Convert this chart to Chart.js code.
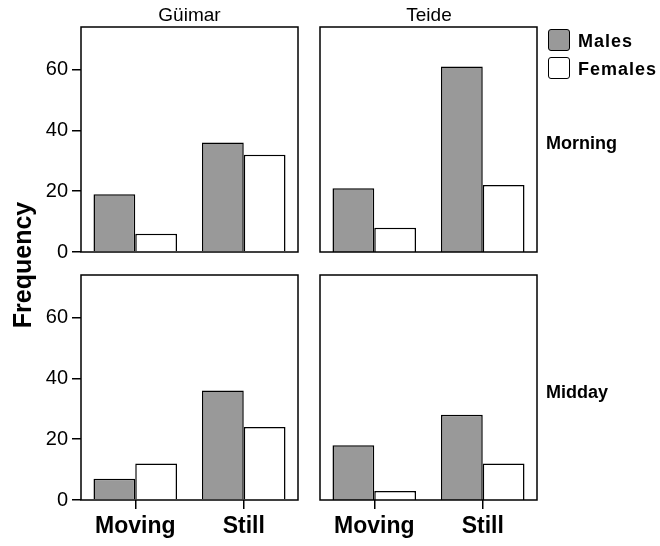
<!DOCTYPE html>
<html>
<head>
<meta charset="utf-8">
<script src="https://cdn.jsdelivr.net/npm/chart.js@4.4.1/dist/chart.umd.min.js"></script>
<style>
  body { margin: 0; background: #fff; }
  #page { position: relative; width: 660px; height: 546px; font-family: "Liberation Sans", Arial, sans-serif; color: #000; }
  canvas { position: absolute; }
  .txt { position: absolute; white-space: nowrap; }
  .key { position: absolute; width: 20px; height: 20px; border: 1.5px solid #000; border-radius: 3px; }
</style>
</head>
<body>
<div id="page"></div>
<script>
const categories = ["Moving", "Still"];
const sites = ["Güimar", "Teide"];
const periods = ["Morning", "Midday"];
const seriesNames = ["Males", "Females"];
const seriesColors = ["#999999", "#ffffff"];

// Frequency values
const malesMorningGuimar = [19, 36];
const femalesMorningGuimar = [6, 32];
const malesMorningTeide = [21, 61];
const femalesMorningTeide = [8, 22];
const malesMiddayGuimar = [7, 36];
const femalesMiddayGuimar = [12, 24];
const malesMiddayTeide = [18, 28];
const femalesMiddayTeide = [3, 12];

const yTicks = [0, 20, 40, 60];
const yMax = 74;

const FONT = '"Liberation Sans", Arial, sans-serif';
const page = document.getElementById("page");

// box round the plot area
const boxPlugin = {
  id: "box",
  afterDatasetsDraw(chart) {
    const a = chart.chartArea;
    const ctx = chart.ctx;
    ctx.save();
    ctx.strokeStyle = "#000";
    ctx.lineWidth = 1.5;
    ctx.strokeRect(a.left, a.top, a.right - a.left, a.bottom - a.top);
    ctx.restore();
  },
};

function addText(text, left, top, css) {
  const d = document.createElement("div");
  d.className = "txt";
  d.textContent = text;
  d.style.left = left + "px";
  d.style.top = top + "px";
  Object.assign(d.style, css || {});
  page.appendChild(d);
  return d;
}

function makePanel(boxLeft, boxTop, showY, showX, males, females) {
  const xh = showX ? 50 : 16; // room under the box
  const canvas = document.createElement("canvas");
  canvas.width = 308;
  canvas.height = 27 + 225 + xh;
  canvas.style.left = boxLeft - 81 + "px";
  canvas.style.top = boxTop - 27 + "px";
  page.appendChild(canvas);

  new Chart(canvas.getContext("2d"), {
    type: "bar",
    data: {
      labels: categories,
      datasets: [
        { label: seriesNames[0], data: males, backgroundColor: seriesColors[0], borderColor: "#000", borderWidth: 1.5 },
        { label: seriesNames[1], data: females, backgroundColor: seriesColors[1], borderColor: "#000", borderWidth: 1.5 },
      ],
    },
    options: {
      responsive: false,
      animation: false,
      events: [],
      layout: { padding: { left: 0, top: 27, right: 10, bottom: 0 } },
      datasets: { bar: { categoryPercentage: 0.77, barPercentage: 1 } },
      plugins: { legend: { display: false }, tooltip: { enabled: false } },
      scales: {
        x: {
          grid: { display: showX, drawOnChartArea: false, drawTicks: true, tickLength: 9, offset: false, color: "#000", lineWidth: 1.5 },
          border: { display: false },
          ticks: { display: showX, color: "#000", padding: 4, maxRotation: 0, font: { family: FONT, size: 23, weight: "bold" } },
          afterFit: (s) => { s.height = xh; },
        },
        y: {
          min: 0,
          max: yMax,
          afterBuildTicks: (s) => { s.ticks = yTicks.map((v) => ({ value: v })); },
          grid: { display: showY, drawOnChartArea: false, drawTicks: true, tickLength: 9, color: "#000", lineWidth: 1.5 },
          border: { display: false },
          ticks: { display: showY, color: "#000", padding: 4, font: { family: FONT, size: 20 } },
          afterFit: (s) => { s.width = 81; },
        },
      },
    },
    plugins: [boxPlugin],
  });
}

makePanel(81, 27, true, false, malesMorningGuimar, femalesMorningGuimar);
makePanel(320, 27, false, false, malesMorningTeide, femalesMorningTeide);
makePanel(81, 275, true, true, malesMiddayGuimar, femalesMiddayGuimar);
makePanel(320, 275, false, true, malesMiddayTeide, femalesMiddayTeide);

// column titles
addText(sites[0], 81, 3, { width: "217px", textAlign: "center", fontSize: "19px", lineHeight: "24px" });
addText(sites[1], 320, 3, { width: "218px", textAlign: "center", fontSize: "19px", lineHeight: "24px" });

// row titles
addText(periods[0], 546, 133, { fontSize: "18px", fontWeight: "bold", lineHeight: "20px" });
addText(periods[1], 546, 382, { fontSize: "18px", fontWeight: "bold", lineHeight: "20px" });

// y title
addText("Frequency", 22 - 100, 265 - 15, {
  width: "200px", height: "30px", lineHeight: "30px", textAlign: "center",
  fontSize: "25px", fontWeight: "bold", transform: "rotate(-90deg)",
});

// legend
seriesNames.forEach((name, i) => {
  const k = document.createElement("div");
  k.className = "key";
  k.style.left = "548px";
  k.style.top = 29 + i * 28 + "px";
  k.style.background = seriesColors[i];
  page.appendChild(k);
  addText(name, 578, 30 + i * 28, { fontSize: "18px", fontWeight: "bold", lineHeight: "22px", letterSpacing: "1px" });
});
</script>
</body>
</html>
